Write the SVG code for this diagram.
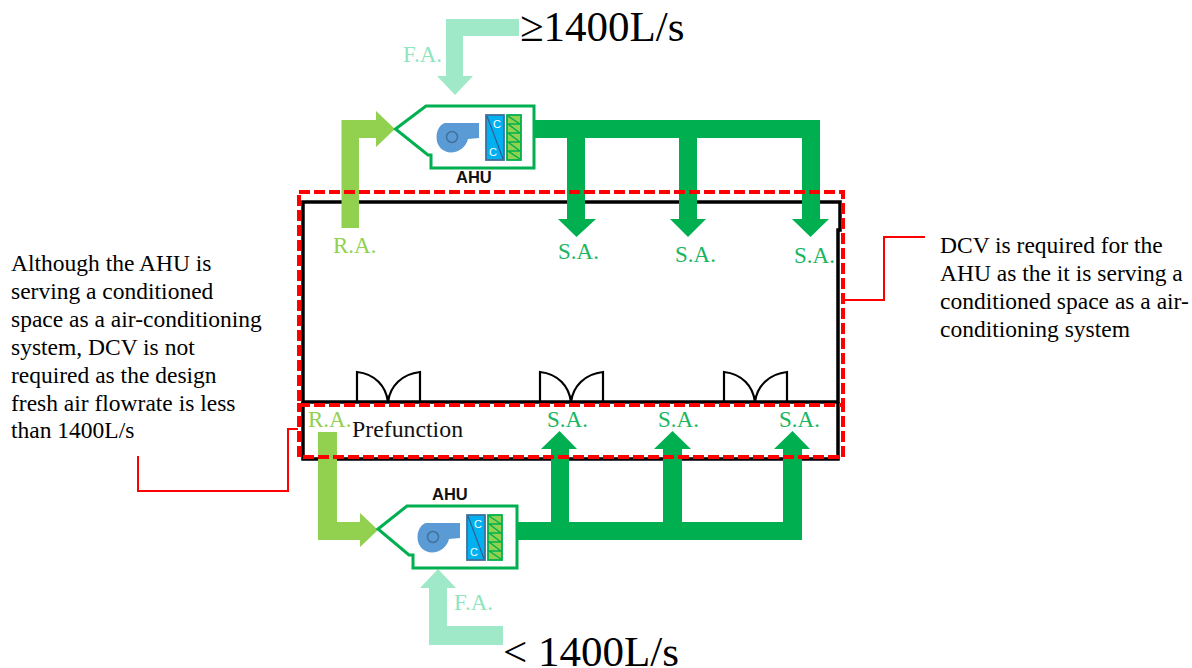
<svg xmlns="http://www.w3.org/2000/svg" xmlns:xlink="http://www.w3.org/1999/xlink" width="1192" height="668" viewBox="0 0 1192 668">
<style>
text{font-family:"Liberation Serif","Times New Roman",serif}
.ra{fill:#92d050}.sa{fill:#00b050}.fa{fill:#a0e9c8}
.lab{font-size:23px}
.ral{fill:#92d050}.sal{fill:#19b462}.fal{fill:#8fe5bd}
.para{font-size:23.500px;fill:#000}
.big{font-size:43px;fill:#000}
.unit{fill:none;stroke:#00b050;stroke-width:3}
.ahu{font-family:"Liberation Sans",Arial,sans-serif;font-weight:bold;font-size:16.500px;fill:#111}
.room{fill:none;stroke:#000;stroke-width:3.500}
.door{fill:none;stroke:#000;stroke-width:2.200}
.zone{fill:none;stroke:#f00;stroke-width:4;stroke-dasharray:11 4}
.call{fill:none;stroke:#f00;stroke-width:2}
.cc{font-family:"Liberation Sans",Arial,sans-serif;font-size:11px;fill:#fff;text-anchor:middle}
</style>
<defs>
<g id="unit-parts">
<path d="M445 123H479V138L468 139C466 147 459 152.500 451 152.500C443 152.500 436.500 146 436.500 137.500C436.500 129 441 124 445 123Z" fill="#5b9bd5"/>
<circle cx="452" cy="137" r="5.500" fill="none" stroke="#41719c" stroke-width="1.500"/>
<rect x="486" y="115" width="18" height="45" fill="#00b0f0" stroke="#41719c" stroke-width="1.800"/>
<path d="M487 116L503 159" stroke="#2e5f8f" stroke-width="1.200" fill="none"/>
<text class="cc" x="497" y="128">C</text>
<text class="cc" x="493" y="156">C</text>
<rect x="507" y="115" width="14" height="45" fill="#92d050" stroke="#00b050" stroke-width="1.800"/>
<path d="M507 124H521M507 133H521M507 142H521M507 151H521M508 116L520 124M508 124L520 133M508 133L520 142M508 142L520 151M508 151L520 159" stroke="#00b050" stroke-width="1.500" fill="none"/>
</g>
<path id="door" class="door" d="M0 30V0C18 2 29 14 31 30C33 14 45 2 63 0V30"/>
</defs>
<rect width="1192" height="668" fill="#fff"/>

<g id="room-main">
<path class="room" d="M303 202H840V230H838V402H303Z"/>
<use xlink:href="#door" href="#door" x="357" y="372"/>
<use xlink:href="#door" href="#door" x="540" y="372"/>
<use xlink:href="#door" href="#door" x="724" y="372"/>
</g>
<g id="room-prefunction">
<path class="room" d="M303 402V459H838V402"/>
<text x="352" y="437" font-size="23.800" fill="#111">Prefunction</text>
</g>

<g id="connectors">
<path class="ra" d="M341.500 228V120H376V111L395 129L376 147V138H359V228Z"/>
<path class="sa" d="M534 120H820V219H829L810.500 237L792 219H802V138H697V219H706L688 237L670 219H679V138H585V219H596L576.500 237L558 219H567V138H534Z"/>
<path class="fa" d="M519 19V36H463V76H473L455 95L437 76H446V19Z"/>
<path class="ra" d="M318 432H337V522H360V513L378 530L360 547V540H318Z"/>
<path class="sa" d="M517 522H551V449H541L559.500 431L577 449H569V522H663V449H654L672.500 431L691 449H682V522H783V449H774L792.500 431L810 449H802V540H517Z"/>
<path class="fa" d="M503 626V645H429V588H420L438 569L456 588H447V626Z"/>
</g>

<g id="ahu-top">
<path class="unit" d="M395.500 129L426 106H534V168H431V155H428Z"/>
<use xlink:href="#unit-parts" href="#unit-parts"/>
<text class="ahu" x="456" y="183">AHU</text>
</g>
<g id="ahu-bottom">
<path class="unit" d="M378 529L407 506H517V568H413V555H409Z"/>
<use xlink:href="#unit-parts" href="#unit-parts" transform="translate(-19 400)"/>
<text class="ahu" x="432" y="500">AHU</text>
</g>

<g id="zones">
<rect class="zone" x="299" y="192" width="544" height="213"/>
<rect class="zone" x="299" y="405" width="544" height="52"/>
<path class="call" d="M845 300H884V237H925"/>
<path class="call" d="M138 456V491H288V429H298"/>
</g>

<g id="labels">
<text class="lab ral" x="333" y="253">R.A.</text>
<text class="lab sal" x="558" y="259">S.A.</text>
<text class="lab sal" x="675" y="262">S.A.</text>
<text class="lab sal" x="794" y="263">S.A.</text>
<text class="lab ral" x="308" y="427">R.A.</text>
<text class="lab sal" x="547" y="427">S.A.</text>
<text class="lab sal" x="658" y="427">S.A.</text>
<text class="lab sal" x="779" y="427">S.A.</text>
<text class="lab fal" x="403" y="62">F.A.</text>
<text class="lab fal" x="454" y="610">F.A.</text>
<text class="big" x="520" y="41">≥1400L/s</text>
<text class="big" x="503" y="666">&lt; 1400L/s</text>
</g>

<g id="note-left">
<text class="para" x="11" y="271">Although the AHU is</text>
<text class="para" x="11" y="299">serving a conditioned</text>
<text class="para" x="11" y="327">space as a air-conditioning</text>
<text class="para" x="11" y="355">system, DCV is not</text>
<text class="para" x="11" y="383">required as the design</text>
<text class="para" x="11" y="411">fresh air flowrate is less</text>
<text class="para" x="11" y="438">than 1400L/s</text>
</g>
<g id="note-right">
<text class="para" x="940" y="253">DCV is required for the</text>
<text class="para" x="940" y="281">AHU as the it is serving a</text>
<text class="para" x="940" y="309">conditioned space as a air-</text>
<text class="para" x="940" y="337">conditioning system</text>
</g>
</svg>
